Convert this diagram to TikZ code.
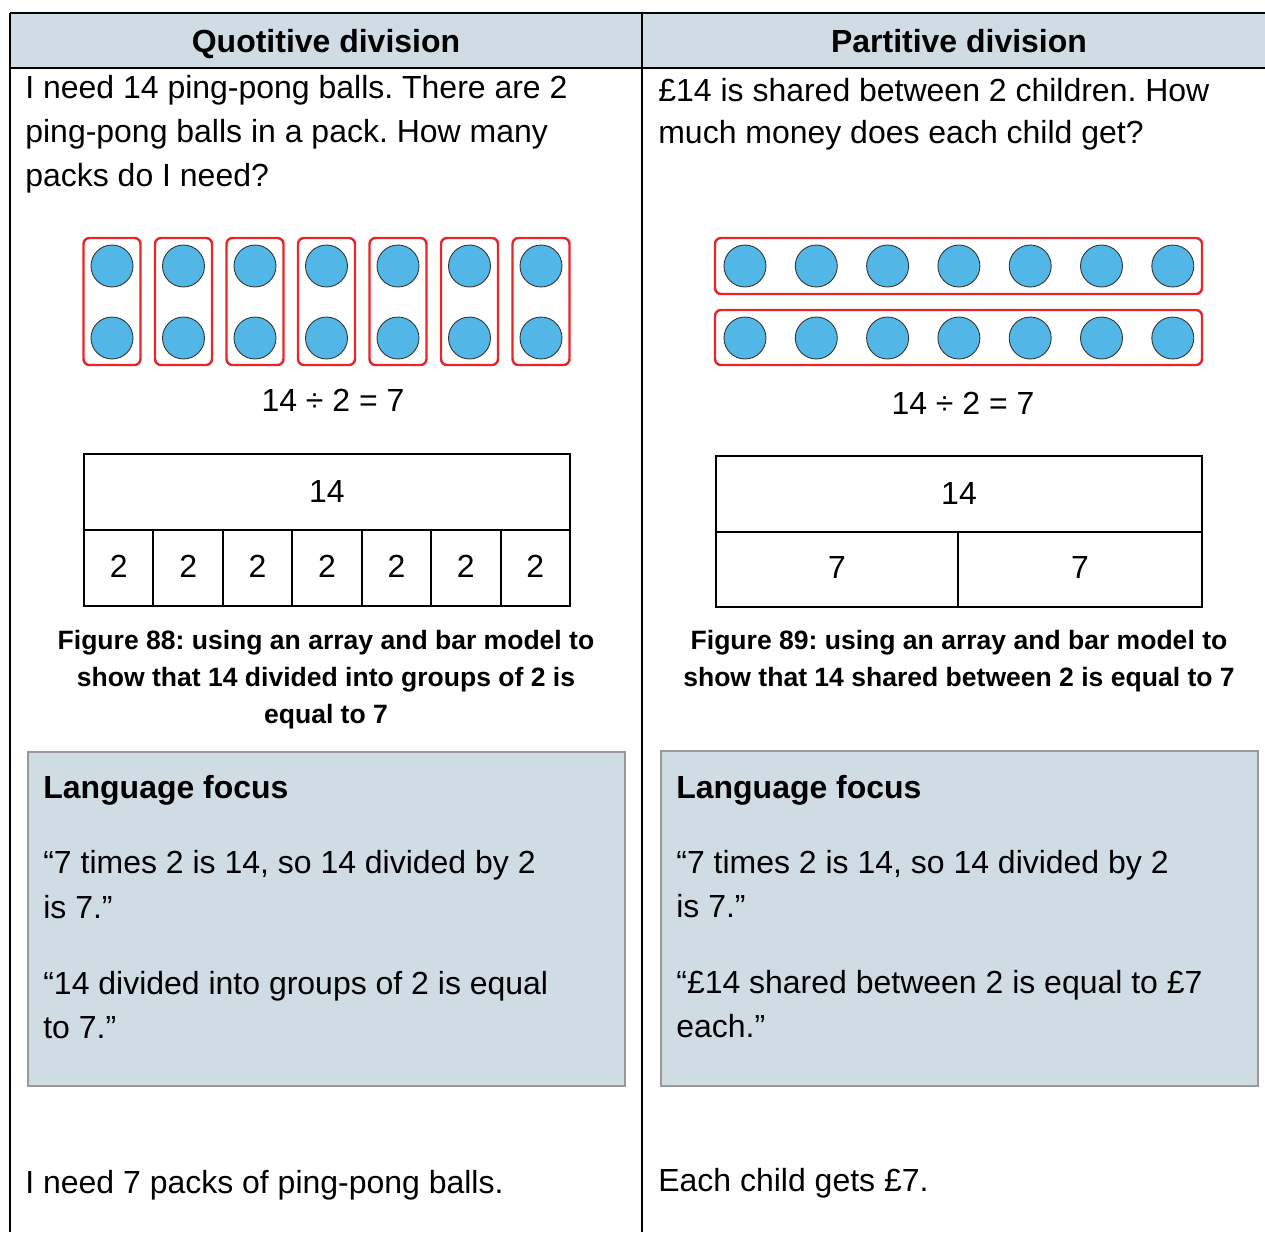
\documentclass[tikz,border=0pt]{standalone}
\usepackage{fontspec}
\setmainfont{Liberation Sans}
\usetikzlibrary{positioning}
\definecolor{headblue}{HTML}{CFDCE4}
\definecolor{ballblue}{HTML}{52B6E6}
\definecolor{groupred}{HTML}{E8262A}
\definecolor{boxgrey}{HTML}{999999}
\frenchspacing
\begin{document}
\begin{tikzpicture}[
    x=0.02cm, y=-0.02cm,
    body/.style={anchor=base west, inner sep=0pt, font=\fontsize{18.2}{25}\selectfont},
    bodyc/.style={anchor=base, inner sep=0pt, font=\fontsize{18.2}{25}\selectfont},
    head/.style={anchor=base, inner sep=0pt, font=\fontsize{18.2}{25}\selectfont\bfseries},
    lftitle/.style={anchor=base west, inner sep=0pt, font=\fontsize{18.2}{25}\selectfont\bfseries},
    caption/.style={anchor=base, inner sep=0pt, font=\fontsize{15.1}{21}\selectfont\bfseries},
    ball/.style={circle, draw=black!80, line width=0.5pt, fill=ballblue, minimum size=0.84cm, inner sep=0pt},
    group/.style={draw=groupred, line width=1.4pt, rounded corners=0.12cm},
    rule/.style={line width=1.1pt},
    bar/.style={line width=1.1pt},
    barnum/.style={inner sep=0pt, font=\fontsize{18.2}{25}\selectfont},
    lfbox/.style={draw=boxgrey, fill=headblue, line width=0.9pt}
]
\useasboundingbox (0,0) rectangle (1265,1232);

% table frame
\fill[headblue] (10,13) rectangle (1265,68);
\draw[rule] (10,13) -- (1265,13);
\draw[rule] (10,68) -- (1265,68);
\draw[rule] (10,13) -- (10,1232);
\draw[rule] (642,13) -- (642,1232);

\node[head] (hq) at (326,52) {Quotitive division};
\node[head] (hp) at (959,52) {Partitive division};

% question texts
\node[body] (q1) at (25,98) {I need 14 ping-pong balls. There are 2};
\node[body] (q2) at (25,142) {ping-pong balls in a pack. How many};
\node[body] (q3) at (25,186) {packs do I need?};
\node[body] (p1) at (658,101) {£14 is shared between 2 children. How};
\node[body] (p2) at (658,143) {much money does each child get?};

% quotitive array: 7 groups of 2
\foreach \i in {0,...,6} {
  \draw[group] ({83.5+71.5*\i},238) rectangle ({140.5+71.5*\i},365);
  \node[ball] (qa\i) at ({112+71.5*\i},266) {};
  \node[ball] (qb\i) at ({112+71.5*\i},338) {};
}
\node[bodyc] (qeq) at (333,411) {14 ÷ 2 = 7};

% partitive array: 2 rows of 7
\draw[group] (715,238) rectangle (1202,294);
\draw[group] (715,310) rectangle (1202,365);
\foreach \i in {0,...,6} {
  \node[ball] (pa\i) at ({745+71.3*\i},266) {};
  \node[ball] (pb\i) at ({745+71.3*\i},338) {};
}
\node[bodyc] (peq) at (963,414) {14 ÷ 2 = 7};

% quotitive bar model
\draw[bar] (84,454) rectangle (570,606);
\draw[bar] (84,530) -- (570,530);
\foreach \k in {1,...,6}
  \draw[bar] ({84+69.43*\k},530) -- ({84+69.43*\k},606);
\node[barnum] (qtot) at (327,491) {14};
\foreach \k in {0,...,6}
  \node[barnum] (qp\k) at ({84+69.43*(\k+0.5)},566) {2};

% partitive bar model
\draw[bar] (716,456) rectangle (1202,607);
\draw[bar] (716,532) -- (1202,532);
\draw[bar] (958,532) -- (958,607);
\node[barnum] (ptot) at (959,493) {14};
\node[barnum] (pp1) at (837,567) {7};
\node[barnum] (pp2) at (1080,567) {7};

% captions
\node[caption] (qc1) at (326,649) {Figure 88: using an array and bar model to};
\node[caption] (qc2) at (326,686) {show that 14 divided into groups of 2 is};
\node[caption] (qc3) at (326,723) {equal to 7};
\node[caption] (pc1) at (959,649) {Figure 89: using an array and bar model to};
\node[caption] (pc2) at (959,686) {show that 14 shared between 2 is equal to 7};

% language focus boxes
\draw[lfbox] (28,752) rectangle (625,1086);
\draw[lfbox] (661,751) rectangle (1258,1086);
\node[lftitle] (ql) at (43,798) {Language focus};
\node[body] (ql1) at (43,873) {“7 times 2 is 14, so 14 divided by 2};
\node[body] (ql2) at (43,918) {is 7.”};
\node[body] (ql3) at (43,994) {“14 divided into groups of 2 is equal};
\node[body] (ql4) at (43,1038) {to 7.”};
\node[lftitle] (pl) at (676,798) {Language focus};
\node[body] (pl1) at (676,873) {“7 times 2 is 14, so 14 divided by 2};
\node[body] (pl2) at (676,917) {is 7.”};
\node[body] (pl3) at (676,993) {“£14 shared between 2 is equal to £7};
\node[body] (pl4) at (676,1037) {each.”};

% answers
\node[body] (qans) at (25,1193) {I need 7 packs of ping-pong balls.};
\node[body] (pans) at (658,1191) {Each child gets £7.};
\end{tikzpicture}
\end{document}
